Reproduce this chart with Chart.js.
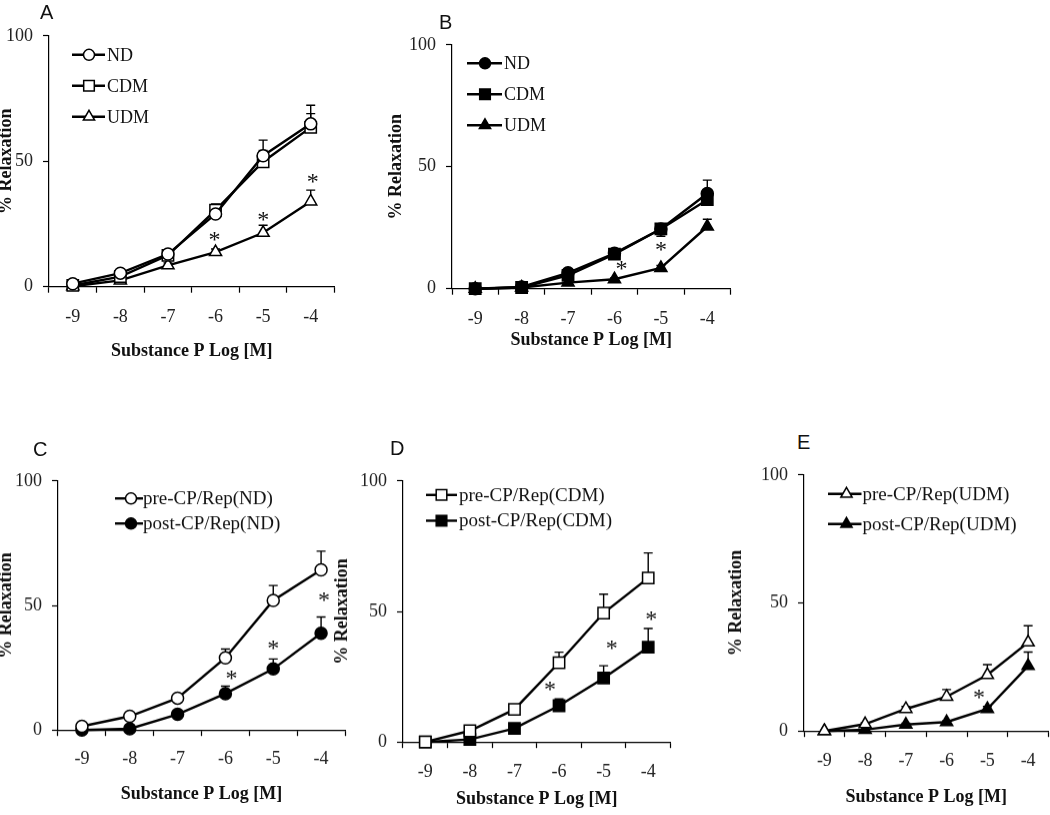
<!DOCTYPE html>
<html>
<head>
<meta charset="utf-8">
<script src="https://cdn.jsdelivr.net/npm/chart.js"></script>
<style>
  html, body { margin:0; padding:0; background:#fff; }
  body { width:1050px; height:815px; overflow:hidden; position:relative; }
  .pn { position:absolute; }
  .lt { position:absolute; font-family:"Liberation Sans", Arial, sans-serif; font-size:20px; line-height:20px; color:#111; }
</style>
</head>
<body>
<div class="pn" id="wA"><canvas id="cA"></canvas></div>
<div class="pn" id="wB"><canvas id="cB"></canvas></div>
<div class="pn" id="wC"><canvas id="cC"></canvas></div>
<div class="pn" id="wD"><canvas id="cD"></canvas></div>
<div class="pn" id="wE"><canvas id="cE"></canvas></div>
<div class="lt" style="left:40px;top:2px">A</div>
<div class="lt" style="left:439px;top:12px">B</div>
<div class="lt" style="left:33px;top:439px">C</div>
<div class="lt" style="left:390px;top:438px">D</div>
<div class="lt" style="left:797px;top:432px">E</div>
<script>
// ---------- data ----------
const doses = ['-9', '-8', '-7', '-6', '-5', '-4'];
const yMin = 0, yMax = 100, yStep = 50;
const xTitle = 'Substance P Log [M]';
const yTitle = '% Relaxation';

// Panel A (open markers)
const A_ND      = [1.2, 5.4, 13, 29, 52.2, 64.9];
const A_ND_err  = [0.5, 0.8, 1, 3.5, 6.2, 7.4];
const A_CDM     = [0.5, 4, 12.5, 30.5, 49.8, 63.5];
const A_CDM_err = [0.3, 0.5, 1, 2.5, 4.5, 5.5];
const A_UDM     = [0.2, 2.5, 8.5, 13.8, 21.5, 34];
const A_UDM_err = [0.2, 0.5, 1, 1.2, 3, 4.5];
const A_stars   = [null, null, null, 20, 28, 43];

// Panel B (filled markers)
const B_ND      = [0, 0.7, 6.5, 14.5, 24.5, 39];
const B_ND_err  = [0, 0, 0.5, 1, 0, 5.5];
const B_CDM     = [0, 0.5, 5.5, 14.2, 24.5, 36.5];
const B_CDM_err = [0, 0, 0.5, 1, 0, 4];
const B_CDM_errLow = [0, 0, 0, 0, 3, 0];
const B_UDM     = [0, 0.5, 2.5, 3.9, 8.5, 25.5];
const B_UDM_err = [0, 0, 0, 0.5, 1, 3];
const B_stars   = [null, null, null, 9.3, 17.3, null];

// Panel C (ND pre / post)
const C_pre      = [1.5, 5.5, 12.8, 29, 52, 64.3];
const C_pre_err  = [0.5, 0.5, 1, 3.5, 6, 7.5];
const C_post     = [0, 0.5, 6.3, 14.6, 24.5, 38.8];
const C_post_err = [0, 0, 0.5, 3, 4, 6.6];
const C_stars    = [null, null, null, 22, 34, 53.5];

// Panel D (CDM pre / post)
const D_pre      = [0, 4.3, 12.5, 30.4, 49.4, 62.8];
const D_pre_err  = [0, 0.5, 1, 4, 7.2, 9.6];
const D_post     = [0, 1, 5.2, 13.9, 24.5, 36.3];
const D_post_err = [0, 0.5, 0.5, 2.6, 4.7, 7.2];
const D_stars    = [null, null, null, 21.4, 37.2, 48.1];

// Panel E (UDM pre / post)
const E_pre      = [0, 2.7, 8.6, 13.4, 21.9, 34.6];
const E_pre_err  = [0, 0.5, 1, 2.8, 4, 6.5];
const E_post     = [0, 0.5, 2.5, 3.5, 8.6, 25.4];
const E_post_err = [0, 0, 0.5, 0.5, 1, 5.4];
const E_stars    = [null, null, null, null, 14.3, null];

// ---------- styles ----------
const SERIF = '"Liberation Serif", "Times New Roman", serif';
const tickFont = { family: SERIF, size: 18 };
const titleFont = { family: SERIF, size: 18, weight: 'bold', lineHeight: 1.2 };

function series(label, data, err, style, filled, errLow) {
  const r = style === 'rect' ? 8 : (style === 'triangle' ? 7 : 6);
  return {
    label, data, errPlus: err, errMinus: errLow || null,
    borderColor: '#000', borderWidth: 2.4, tension: 0, fill: false, clip: false,
    pointStyle: style, pointRadius: r, pointHoverRadius: r,
    pointBackgroundColor: filled ? '#000' : '#fff',
    pointBorderColor: '#000', pointBorderWidth: 1.5
  };
}

function drawMarker(ctx, style, r, x, y, filled) {
  ctx.save();
  ctx.fillStyle = filled ? '#000' : '#fff';
  ctx.strokeStyle = '#000';
  ctx.lineWidth = 1.5;
  ctx.beginPath();
  if (style === 'circle') {
    ctx.arc(x, y, r, 0, Math.PI * 2);
  } else if (style === 'rect') {
    const s = Math.SQRT1_2 * r;
    ctx.rect(x - s, y - s, 2 * s, 2 * s);
  } else {
    ctx.moveTo(x, y - r);
    ctx.lineTo(x + Math.sin(Math.PI * 2 / 3) * r, y + r / 2);
    ctx.lineTo(x - Math.sin(Math.PI * 2 / 3) * r, y + r / 2);
    ctx.closePath();
  }
  ctx.fill();
  ctx.stroke();
  ctx.restore();
}

const overlay = {
  id: 'overlay',
  beforeDatasetsDraw(chart) {
    const ctx = chart.ctx, ys = chart.scales.y;
    ctx.save();
    ctx.strokeStyle = '#000';
    ctx.lineWidth = 1.4;
    chart.data.datasets.forEach((ds, i) => {
      const meta = chart.getDatasetMeta(i);
      meta.data.forEach((pt, j) => {
        const pairs = [[ds.errPlus ? ds.errPlus[j] : 0, 1], [ds.errMinus ? ds.errMinus[j] : 0, -1]];
        pairs.forEach(([e, s]) => {
          if (!e) return;
          const yE = ys.getPixelForValue(ds.data[j] + s * e);
          ctx.beginPath();
          ctx.moveTo(pt.x, pt.y); ctx.lineTo(pt.x, yE);
          ctx.moveTo(pt.x - 4.5, yE); ctx.lineTo(pt.x + 4.5, yE);
          ctx.stroke();
        });
      });
    });
    ctx.restore();
  },
  afterDatasetsDraw(chart, args, opts) {
    const ctx = chart.ctx, xs = chart.scales.x, ys = chart.scales.y, area = chart.chartArea;
    ctx.save();
    // significance asterisks
    ctx.fillStyle = '#111';
    ctx.font = '24px ' + SERIF;
    ctx.textAlign = 'center';
    ctx.textBaseline = 'middle';
    (opts.stars || []).forEach((v, j) => {
      if (v === null) return;
      const dx = opts.starDx ? opts.starDx[j] : 0;
      ctx.fillText('*', xs.getPixelForValue(j) + dx, ys.getPixelForValue(v) + 4);
    });
    // in-plot legend
    const lg = opts.legend;
    if (lg) {
      chart.data.datasets.forEach((ds, i) => {
        const y = area.top + lg.y0 + i * lg.dy;
        ctx.strokeStyle = '#000';
        ctx.lineWidth = 2.4;
        ctx.beginPath();
        ctx.moveTo(area.left + lg.x1, y);
        ctx.lineTo(area.left + lg.x2, y);
        ctx.stroke();
        drawMarker(ctx, ds.pointStyle, ds.pointRadius - 0.5, area.left + lg.mx, y, ds.pointBackgroundColor === '#000');
        ctx.fillStyle = '#111';
        ctx.font = lg.size + 'px ' + SERIF;
        ctx.textAlign = 'left';
        ctx.textBaseline = 'middle';
        ctx.fillText(ds.label, area.left + lg.tx, y + 1);
      });
    }
    ctx.restore();
  }
};

function makePanel(id, wrapId, geo, datasets, stars, starDx, legend) {
  const W = geo.axisL - geo.left;               // y-axis block width
  const H = geo.titleOff + 10.8;                // x-axis block height
  const padTop = 14, padRight = 8;
  const width = W + (geo.axisR - geo.axisL) + padRight;
  const height = padTop + (geo.yBot - geo.yTop) + H;
  const wrap = document.getElementById(wrapId);
  wrap.style.left = geo.left + 'px';
  wrap.style.top = (geo.yTop - padTop) + 'px';
  const cv = document.getElementById(id);
  cv.width = width; cv.height = height;
  cv.style.width = width + 'px'; cv.style.height = height + 'px';
  new Chart(cv, {
    type: 'line',
    data: { labels: doses, datasets },
    options: {
      responsive: false, maintainAspectRatio: false, animation: false,
      devicePixelRatio: 1,
      layout: { padding: { top: padTop, right: padRight, left: 0, bottom: 0 } },
      plugins: {
        legend: { display: false }, tooltip: { enabled: false },
        overlay: { stars, starDx, legend }
      },
      scales: {
        x: {
          type: 'category', offset: true,
          grid: { offset: true, drawOnChartArea: false, drawTicks: true, tickLength: 6, color: '#000', tickWidth: 1.2 },
          border: { color: '#000', width: 1.2 },
          ticks: { font: tickFont, color: '#222', padding: geo.labelOff - 16.8, maxRotation: 0, autoSkip: false },
          title: { display: true, text: xTitle, font: titleFont, color: '#111', padding: { top: 0, bottom: 0 } },
          afterFit: (s) => { s.height = H; }
        },
        y: {
          min: yMin, max: yMax,
          grid: { drawOnChartArea: false, drawTicks: true, tickLength: 6, color: '#000', tickWidth: 1.2 },
          border: { color: '#000', width: 1.2 },
          ticks: { stepSize: yStep, font: tickFont, color: '#222', padding: 10 },
          title: { display: true, text: yTitle, font: titleFont, color: '#111', padding: { top: 0, bottom: 0 } },
          afterFit: (s) => { s.width = W; }
        }
      }
    },
    plugins: [overlay]
  });
}

makePanel('cA', 'wA', { left: -4, axisL: 49, axisR: 336, yTop: 29, yBot: 287, labelOff: 30.5, titleOff: 64.5 }, [
  series('ND', A_ND, A_ND_err, 'circle', false),
  series('CDM', A_CDM, A_CDM_err, 'rect', false),
  series('UDM', A_UDM, A_UDM_err, 'triangle', false)
], A_stars, [0, 0, 0, -1, 0, 2], { x1: 23, x2: 56, mx: 40, tx: 58, y0: 19, dy: 31, size: 18 });

makePanel('cB', 'wB', { left: 386, axisL: 452, axisR: 732, yTop: 38, yBot: 289, labelOff: 31, titleOff: 51.5 }, [
  series('ND', B_ND, B_ND_err, 'circle', true),
  series('CDM', B_CDM, B_CDM_err, 'rect', true, B_CDM_errLow),
  series('UDM', B_UDM, B_UDM_err, 'triangle', true)
], B_stars, [0, 0, 0, 7, 0, 0], { x1: 15, x2: 50, mx: 33, tx: 52, y0: 18.5, dy: 31, size: 18 });

makePanel('cC', 'wC', { left: -4, axisL: 58, axisR: 345, yTop: 474, yBot: 730, labelOff: 29, titleOff: 64 }, [
  series('pre-CP/Rep(ND)', C_pre, C_pre_err, 'circle', false),
  series('post-CP/Rep(ND)', C_post, C_post_err, 'circle', true)
], C_stars, [0, 0, 0, 6, 0, 3], { x1: 57, x2: 85, mx: 73, tx: 85, y0: 17.5, dy: 25, size: 19 });

makePanel('cD', 'wD', { left: 332, axisL: 403, axisR: 672, yTop: 474, yBot: 742, labelOff: 30, titleOff: 57 }, [
  series('pre-CP/Rep(CDM)', D_pre, D_pre_err, 'rect', false),
  series('post-CP/Rep(CDM)', D_post, D_post_err, 'rect', true)
], D_stars, [0, 0, 0, -9, 8, 3], { x1: 23, x2: 54, mx: 38.5, tx: 56, y0: 14, dy: 25.7, size: 19 });

makePanel('cE', 'wE', { left: 726, axisL: 804, axisR: 1049, yTop: 468, yBot: 731, labelOff: 30, titleOff: 66 }, [
  series('pre-CP/Rep(UDM)', E_pre, E_pre_err, 'triangle', false),
  series('post-CP/Rep(UDM)', E_post, E_post_err, 'triangle', true)
], E_stars, [0, 0, 0, 0, -8.5, 0], { x1: 24, x2: 57.5, mx: 42.5, tx: 58.5, y0: 19, dy: 30, size: 19 });
</script>
</body>
</html>
